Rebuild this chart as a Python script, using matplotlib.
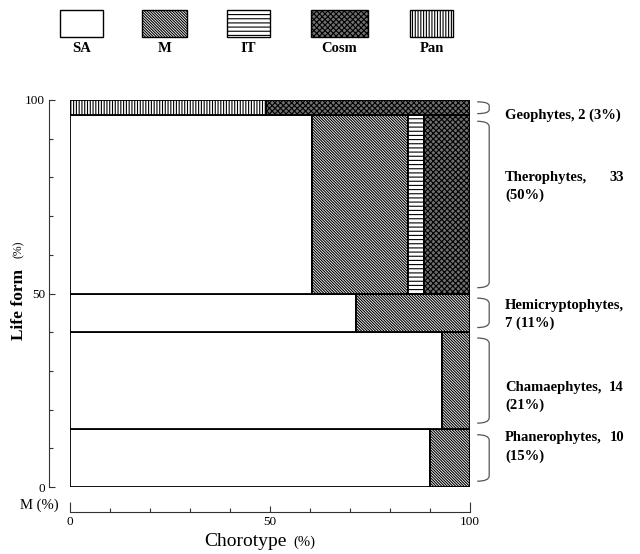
import matplotlib
matplotlib.use('Agg')
import matplotlib.pyplot as plt
from matplotlib.patches import Rectangle, PathPatch
from matplotlib.path import Path
from matplotlib.ticker import FixedLocator, MultipleLocator

plt.rcParams['font.family'] = ['Liberation Serif', 'DejaVu Serif']
plt.rcParams['hatch.linewidth'] = 0.8

# life forms, bottom to top
life_forms = ['Phanerophytes', 'Chamaephytes', 'Hemicryptophytes', 'Therophytes', 'Geophytes']
counts = [10, 14, 7, 33, 2]
percents = [15, 21, 11, 50, 3]
row_heights = [15, 25, 10, 46, 4]   # height drawn in the mosaic (%)

# chorotype share inside each life form (%)
chorotypes = ['SA', 'M', 'IT', 'Pan', 'Cosm']
sa = [90, 93, 71.4, 60.5, 0]
m = [10, 7, 28.6, 24, 0]
it = [0, 0, 0, 4, 0]
pan = [0, 0, 0, 0, 49]
cosm = [0, 0, 0, 11.5, 51]
shares = [sa, m, it, pan, cosm]

styles = {
    'SA': dict(facecolor='white', hatch=None),
    'M': dict(facecolor='white', hatch='\\' * 12),
    'IT': dict(facecolor='white', hatch='----'),
    'Cosm': dict(facecolor='#707070', hatch='xxxxxx'),
    'Pan': dict(facecolor='white', hatch='||||||'),
}
legend_order = ['SA', 'M', 'IT', 'Cosm', 'Pan']

fig = plt.figure(figsize=(6.4, 5.54), dpi=100)
ax = fig.add_axes([70/640, 67/554, 400/640, 387/554])

bottom = 0
for i in range(len(life_forms)):
    h = row_heights[i]
    left = 0
    for name, vals in zip(chorotypes, shares):
        w = vals[i]
        if w > 0:
            st = styles[name]
            ax.add_patch(Rectangle((left, bottom), w, h, facecolor=st['facecolor'],
                                   hatch=st['hatch'], edgecolor='black', lw=1.3))
        left += w
    bottom += h

ax.set_xlim(0, 100)
ax.set_ylim(0, 100)
for s in ['top', 'right']:
    ax.spines[s].set_visible(False)
ax.spines['left'].set_position(('outward', 15))
ax.spines['bottom'].set_position(('outward', 18))
ax.spines['left'].set_color('#333333')
ax.spines['bottom'].set_color('#333333')
ax.spines['left'].set_linewidth(0.8)
ax.spines['bottom'].set_linewidth(0.8)

ax.yaxis.set_major_locator(FixedLocator([0, 50, 100]))
ax.yaxis.set_minor_locator(MultipleLocator(10))
ax.xaxis.set_major_locator(FixedLocator([0, 50, 100]))
ax.xaxis.set_minor_locator(MultipleLocator(10))
ax.tick_params(axis='both', which='both', direction='in', color='#333333', width=0.8)
ax.tick_params(axis='both', which='major', length=4, labelsize=9.5, pad=3)
ax.tick_params(axis='both', which='minor', length=3)
ax.set_yticklabels(['0', '50', '100'])
ax.set_xticklabels(['0', '50', '100'])
xt = ax.xaxis.get_major_ticks()
xt[0].tick1line.set_markersize(7)
xt[2].tick1line.set_markersize(7)

# brackets and labels on the right
def brace(y_top, y_bot, gap):
    x0, x1 = 101.8, 104.8
    top = y_top - gap
    bot = y_bot + gap
    r = min(1.4, (top - bot) / 3)
    verts = [(x0, top), (x1, top), (x1, top - r), (x1, bot + r), (x1, bot), (x0, bot)]
    codes = [Path.MOVETO, Path.CURVE3, Path.CURVE3, Path.LINETO, Path.CURVE3, Path.CURVE3]
    ax.add_patch(PathPatch(Path(verts, codes), fill=False, lw=0.9,
                           edgecolor='#555555', clip_on=False))

label_y = [12.7, 25.8, 47.0, 80.1, 96.1]
line_gap = 4.65
tx0, tx1 = 108.75, 138.5
lab_kw = dict(fontsize=10.5, fontweight='bold', va='center', clip_on=False)

bottom = 0
for i, lf in enumerate(life_forms):
    h = row_heights[i]
    brace(bottom + h, bottom, min(1.5, h * 0.12))
    y = label_y[i]
    if lf == 'Geophytes':
        ax.text(tx0, y, f'{lf}, {counts[i]} ({percents[i]}%)', ha='left', **lab_kw)
    elif lf == 'Hemicryptophytes':
        ax.text(tx0, y, f'{lf},', ha='left', **lab_kw)
        ax.text(tx0, y - line_gap, f'{counts[i]} ({percents[i]}%)', ha='left', **lab_kw)
    else:
        ax.text(tx0, y, f'{lf},', ha='left', **lab_kw)
        ax.text(tx1, y, f'{counts[i]}', ha='right', **lab_kw)
        ax.text(tx0, y - line_gap, f'({percents[i]}%)', ha='left', **lab_kw)
    bottom += h

# axis titles
fig.text(19/640, 1 - 304/554, 'Life form', rotation=90, fontsize=12.5,
         fontweight='bold', ha='center', va='center')
fig.text(19/640, 1 - 249/554, '(%)', rotation=90, fontsize=8.5,
         ha='center', va='center')
fig.text(287/640, 1 - 542/554, 'Chorotype', fontsize=14, ha='right', va='center')
fig.text(293/640, 1 - 542/554, '(%)', fontsize=10.5, ha='left', va='center')
fig.text(39/640, 1 - 505/554, 'M (%)', fontsize=10.5, ha='center', va='center')

# legend boxes at the top
lax = fig.add_axes([0, 0, 1, 1])
lax.set_xlim(0, 640)
lax.set_ylim(554, 0)
lax.axis('off')
box_x = [(60, 103), (142, 187), (227, 270), (311, 368), (410, 453)]
for name, (a, b) in zip(legend_order, box_x):
    st = styles[name]
    lax.add_patch(Rectangle((a, 10), b - a, 27, facecolor=st['facecolor'],
                            hatch=st['hatch'], edgecolor='black', lw=1.0))
    lax.text((a + b) / 2, 48, name, fontsize=10.5, fontweight='bold',
             ha='center', va='center')

fig.savefig('out.png', dpi=100)
